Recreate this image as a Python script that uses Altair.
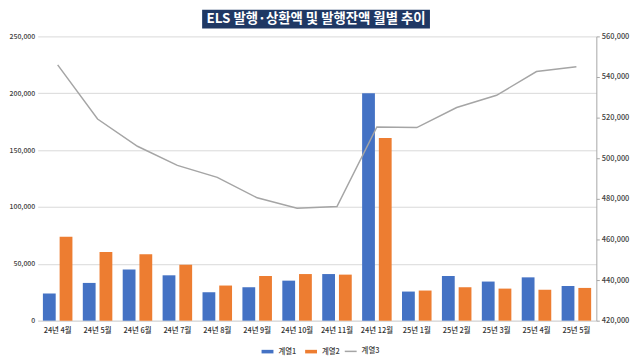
import altair as alt
import pandas as pd

FONT = "Noto Sans CJK KR"

title_text = "ELS 발행·상환액 및 발행잔액 월별 추이"
months = ["24년 4월", "24년 5월", "24년 6월", "24년 7월", "24년 8월", "24년 9월", "24년 10월",
          "24년 11월", "24년 12월", "25년 1월", "25년 2월", "25년 3월", "25년 4월", "25년 5월"]
series_names = ["계열1", "계열2", "계열3"]
series1 = [23900, 33200, 45100, 39900, 25000, 29400, 35200, 41000, 200000, 25600, 39300, 34400, 38100, 30500]
series2 = [73900, 60500, 58500, 49200, 30900, 39300, 41000, 40500, 160600, 26500, 29400, 28200, 27100, 28800]
series3 = [546000, 519300, 505900, 496500, 490600, 480500, 475400, 476200, 515400, 515100, 525000, 531000, 542700, 545000]
colors = ["#4472C4", "#ED7D31", "#A5A5A5"]
left_ticks = [0, 50000, 100000, 150000, 200000, 250000]
right_ticks = [420000, 440000, 460000, 480000, 500000, 520000, 540000, 560000]

bar_df = pd.DataFrame({
    "month": months * 2,
    "series": [series_names[0]] * len(months) + [series_names[1]] * len(months),
    "value": series1 + series2,
})
line_df = pd.DataFrame({"month": months, "series": series_names[2], "value": series3})
title_df = pd.DataFrame({"title": [title_text]})

x_enc = alt.X(
    "month:N", sort=months,
    scale=alt.Scale(paddingInner=0.26, paddingOuter=0.13),
    axis=alt.Axis(title=None, labelAngle=0, ticks=False, domainColor="#D9D9D9",
                  labelPadding=6, labelFontSize=7.5, labelColor="#333333", labelFontWeight=500,
                  grid=False),
)

bars = alt.Chart(bar_df).mark_bar().encode(
    x=x_enc,
    xOffset=alt.XOffset("series:N", sort=series_names[:2],
                        scale=alt.Scale(paddingInner=0.235, paddingOuter=0)),
    y=alt.Y("value:Q", scale=alt.Scale(domain=[0, 250000], nice=False),
            axis=alt.Axis(orient="left", values=left_ticks, format=",.0f", title=None,
                          domain=False, ticks=False, labelPadding=3, gridColor="#D9D9D9",
                          labelFontSize=7, labelColor="#404040", labelFontWeight=500)),
    color=alt.Color("series:N", scale=alt.Scale(domain=series_names[:2], range=colors[:2]),
                    legend=alt.Legend(
                        title=None, orient="none", legendX=225, legendY=311,
                        direction="horizontal", columns=2, columnPadding=7,
                        symbolType="M-1,-0.3H1V0.3H-1Z", symbolSize=144,
                        labelFontSize=7.5, labelColor="#404040", labelFont=FONT, labelOffset=4,
                        labelFontWeight=500,
                    )),
)

line = alt.Chart(line_df).mark_line(strokeWidth=1.5).encode(
    x=x_enc,
    y=alt.Y("value:Q", scale=alt.Scale(domain=[420000, 560000], nice=False, zero=False),
            axis=alt.Axis(orient="right", values=right_ticks, format=",.0f", title=None, grid=False,
                          domainColor="#A6A6A6", tickColor="#A6A6A6", tickSize=3,
                          labelPadding=2, labelFontSize=7.5, labelColor="#404040",
                          labelFontWeight=500)),
    stroke=alt.Stroke("series:N", scale=alt.Scale(domain=series_names[2:], range=colors[2:]),
                      legend=alt.Legend(
                          title=None, orient="none", legendX=309, legendY=311,
                          symbolType="stroke", symbolSize=144, symbolStrokeWidth=1.5,
                          labelFontSize=7.5, labelColor="#404040", labelFont=FONT, labelOffset=4,
                          labelFontWeight=500,
                      )),
)

title_box = alt.Chart(title_df).mark_rect(color="#1F3864").encode(
    x=alt.value(166), x2=alt.value(396), y=alt.value(-27), y2=alt.value(-8)
)
title_txt = alt.Chart(title_df).mark_text(
    color="white", fontSize=13.5, fontWeight="bold", font=FONT, align="center", baseline="middle"
).encode(x=alt.value(281), y=alt.value(-17.5), text="title:N")

chart = alt.layer(bars, line, title_box, title_txt).resolve_scale(y="independent").properties(
    width=564, height=287,
    autosize=alt.AutoSizeParams(type="none"),
    padding={"left": 30, "top": 27, "right": 36, "bottom": 35},
    background="white",
).configure_view(stroke=None).configure_axis(labelFont=FONT).configure_text(font=FONT)

chart.save("out.html", embed_options={"renderer": "svg", "actions": False})
